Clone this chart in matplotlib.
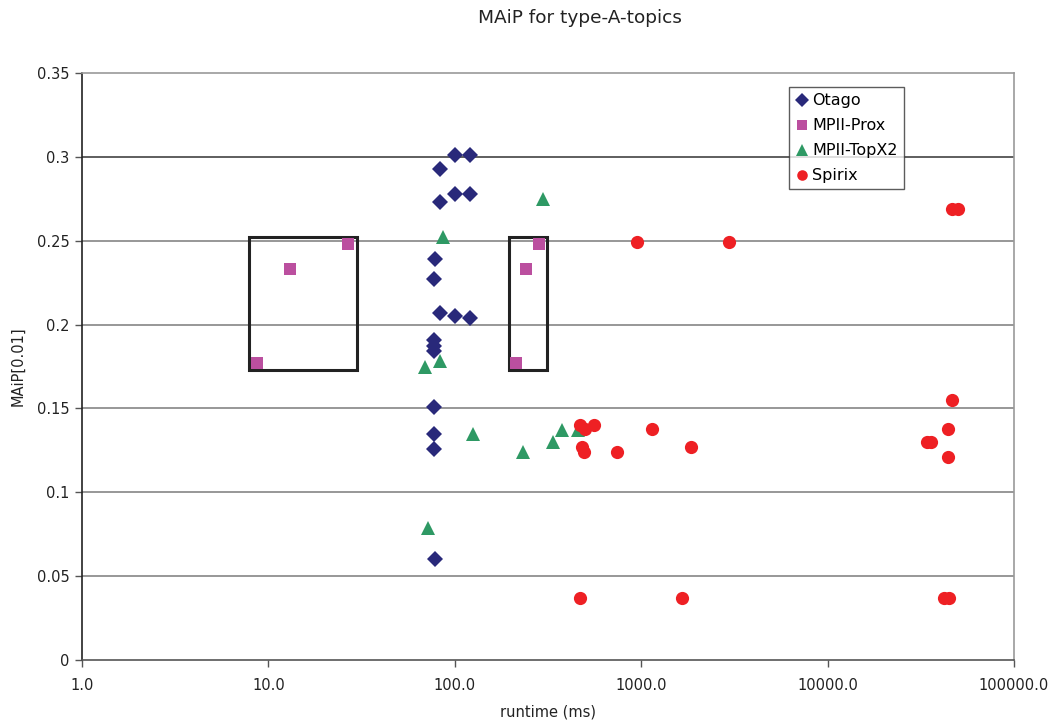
import matplotlib
matplotlib.use("Agg")
import matplotlib.pyplot as plt
from matplotlib.patches import Rectangle

# ---- data ----
otago_x = [100, 121, 83, 100, 121, 83, 78, 77.6, 83, 100, 121, 77, 77.5, 77.5, 77, 77, 77, 78]
otago_y = [0.301, 0.301, 0.293, 0.278, 0.278, 0.273, 0.239, 0.227, 0.207, 0.205, 0.204,
           0.191, 0.187, 0.184, 0.151, 0.135, 0.126, 0.060]

prox_x = [8.7, 13.0, 26.7, 213, 241, 283]
prox_y = [0.177, 0.233, 0.248, 0.177, 0.233, 0.248]

topx_x = [297, 86.4, 69.2, 83, 125, 232, 336, 376, 458, 71.8]
topx_y = [0.275, 0.252, 0.175, 0.178, 0.135, 0.124, 0.130, 0.137, 0.137, 0.079]

spirix_x = [949, 2958, 46500, 50000, 46500, 44400, 34100, 35900, 44100, 42100, 44800,
            469, 499, 558, 1147, 480, 493, 739, 1850, 469, 1662]
spirix_y = [0.249, 0.249, 0.269, 0.269, 0.155, 0.138, 0.130, 0.130, 0.121, 0.037, 0.037,
            0.140, 0.138, 0.140, 0.138, 0.127, 0.124, 0.124, 0.127, 0.037, 0.037]

# highlight boxes around MPII-Prox groups: (x0, x1, y0, y1)
box_x0 = [7.87, 195]
box_x1 = [29.9, 312]
box_y0 = [0.173, 0.173]
box_y1 = [0.252, 0.252]

yticks = [0, 0.05, 0.1, 0.15, 0.2, 0.25, 0.3, 0.35]
ytick_labels = ["0", "0.05", "0.1", "0.15", "0.2", "0.25", "0.3", "0.35"]
xticks = [1, 10, 100, 1000, 10000, 100000]
xtick_labels = ["1.0", "10.0", "100.0", "1000.0", "10000.0", "100000.0"]

# ---- figure ----
fig = plt.figure(figsize=(10.55, 7.27), dpi=100)
ax = fig.add_axes([82/1055, 67/727, (1014-82)/1055, (660-73)/727])

ax.set_xscale("log")
ax.set_xlim(1, 100000)
ax.set_ylim(0, 0.35)

grid_colors = ["#7a7a7a", "#7a7a7a", "#7a7a7a", "#7a7a7a", "#7a7a7a", "#333333"]
for v, gc in zip(yticks[1:-1], grid_colors):
    ax.axhline(v, color=gc, lw=1.1, zorder=1)

c_otago = "#29297a"
c_prox = "#bb4f9f"
c_topx = "#2e9964"
c_spirix = "#ee2024"

for x0, x1, y0, y1 in zip(box_x0, box_x1, box_y0, box_y1):
    ax.add_patch(Rectangle((x0, y0), x1 - x0, y1 - y0, fill=False,
                           edgecolor="#222222", lw=2.2, zorder=2))

ax.plot(otago_x, otago_y, ls="none", marker="D", ms=8.3, color=c_otago, mew=0, zorder=3, label="Otago")
ax.plot(prox_x, prox_y, ls="none", marker="s", ms=9, color=c_prox, mew=0, zorder=3, label="MPII-Prox")
ax.plot(topx_x, topx_y, ls="none", marker="^", ms=10, color=c_topx, mew=0, zorder=3, label="MPII-TopX2")
ax.plot(spirix_x, spirix_y, ls="none", marker="o", ms=9.5, color=c_spirix, mew=0, zorder=4, label="Spirix")

ax.set_yticks(yticks)
ax.set_yticklabels(ytick_labels)
ax.set_xticks(xticks)
ax.set_xticklabels(xtick_labels)
ax.minorticks_off()
ax.tick_params(axis="both", labelsize=10.5, length=5, width=1, color="#555555",
               labelcolor="#222222", pad=4)
ax.tick_params(axis="x", pad=8)

ax.spines["left"].set_color("#222222")
ax.spines["bottom"].set_color("#555555")
ax.spines["right"].set_color("#999999")
ax.spines["top"].set_color("#999999")
for s in ax.spines.values():
    s.set_linewidth(1.2)

ax.set_xlabel("runtime (ms)", fontsize=10.5, color="#222222", labelpad=8)
ax.set_ylabel("MAiP[0.01]", fontsize=10.5, color="#222222", labelpad=8)
fig.text(580/1055, 1 - 18/727, "MAiP for type-A-topics", ha="center", va="center",
         fontsize=13.3, color="#222222")

leg = ax.legend(loc="upper left", bbox_to_anchor=(789/1055, 1 - 87/727),
                bbox_transform=fig.transFigure, fontsize=11.5, frameon=True,
                fancybox=False, edgecolor="#333333", handlelength=0.8,
                handletextpad=0.25, borderpad=0.4, labelspacing=0.62,
                markerscale=0.8, borderaxespad=0)
leg.get_frame().set_linewidth(1.0)

fig.savefig("out.png", dpi=100, facecolor="white")
